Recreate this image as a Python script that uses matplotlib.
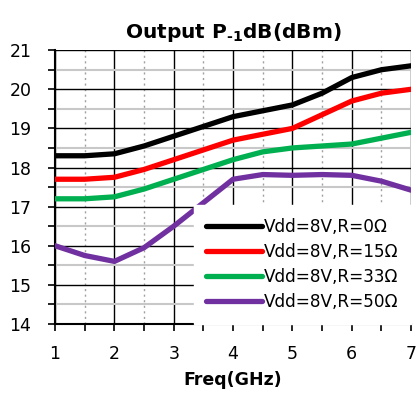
import numpy as np
import matplotlib
matplotlib.use("Agg")
import matplotlib.pyplot as plt
from matplotlib.ticker import MultipleLocator

# data
freq = [1, 1.5, 2, 2.5, 3, 3.5, 4, 4.5, 5, 5.5, 6, 6.5, 7]
r0 = [18.3, 18.3, 18.35, 18.55, 18.8, 19.05, 19.3, 19.45, 19.6, 19.9, 20.3, 20.5, 20.6]
r15 = [17.7, 17.7, 17.75, 17.95, 18.2, 18.45, 18.7, 18.85, 19.0, 19.35, 19.7, 19.9, 20.0]
r33 = [17.2, 17.2, 17.25, 17.45, 17.7, 17.95, 18.2, 18.4, 18.5, 18.55, 18.6, 18.75, 18.9]
r50 = [16.0, 15.75, 15.6, 15.95, 16.5, 17.1, 17.7, 17.82, 17.8, 17.82, 17.8, 17.65, 17.42]
labels = ["Vdd=8V,R=0Ω", "Vdd=8V,R=15Ω", "Vdd=8V,R=33Ω", "Vdd=8V,R=50Ω"]
colors = ["#000000", "#ff0000", "#00b050", "#7030a0"]

fig = plt.figure(figsize=(4.17, 3.98), dpi=100)
ax = fig.add_axes([0.132, 0.186, 0.854, 0.688])

for y, lab, c in zip([r0, r15, r33, r50], labels, colors):
    ax.plot(freq, y, color=c, lw=3.8, label=lab, solid_joinstyle="round",
            solid_capstyle="round", zorder=3)

ax.set_xlim(1, 7)
ax.set_ylim(14, 21)
ax.xaxis.set_major_locator(MultipleLocator(1))
ax.xaxis.set_minor_locator(MultipleLocator(0.5))
ax.yaxis.set_major_locator(MultipleLocator(1))
ax.yaxis.set_minor_locator(MultipleLocator(0.5))

# grid
ax.grid(which="major", color="black", lw=1.0)
ax.grid(which="minor", axis="y", color="#c8c8c8", lw=1.5)
ax.grid(which="minor", axis="x", color="#a0a0a0", lw=1.0, ls=(0, (1.5, 2.5)))
ax.set_axisbelow(True)

for s in ["top", "right"]:
    ax.spines[s].set_visible(False)
ax.spines["left"].set_linewidth(1.5)
ax.spines["bottom"].set_linewidth(1.5)

ax.tick_params(which="both", direction="out", length=5, width=1.2)
ax.tick_params(axis="x", pad=10, labelsize=12.5)
ax.tick_params(axis="y", pad=12, labelsize=12.5)

ax.set_title("Output P$_{\\mathbf{\u2010 1}}$dB(dBm)", fontsize=14.5, fontweight="bold", pad=9)
ax.set_xlabel("Freq(GHz)", fontsize=12.5, fontweight="bold", labelpad=6)

leg = ax.legend(loc="lower right", fontsize=12.2, frameon=True, fancybox=False,
                edgecolor="white", framealpha=1, handlelength=3.3,
                handletextpad=0.1, borderaxespad=0.0, labelspacing=0.42,
                borderpad=0.75)
leg.set_zorder(5)

fig.savefig("out.png", dpi=100)
